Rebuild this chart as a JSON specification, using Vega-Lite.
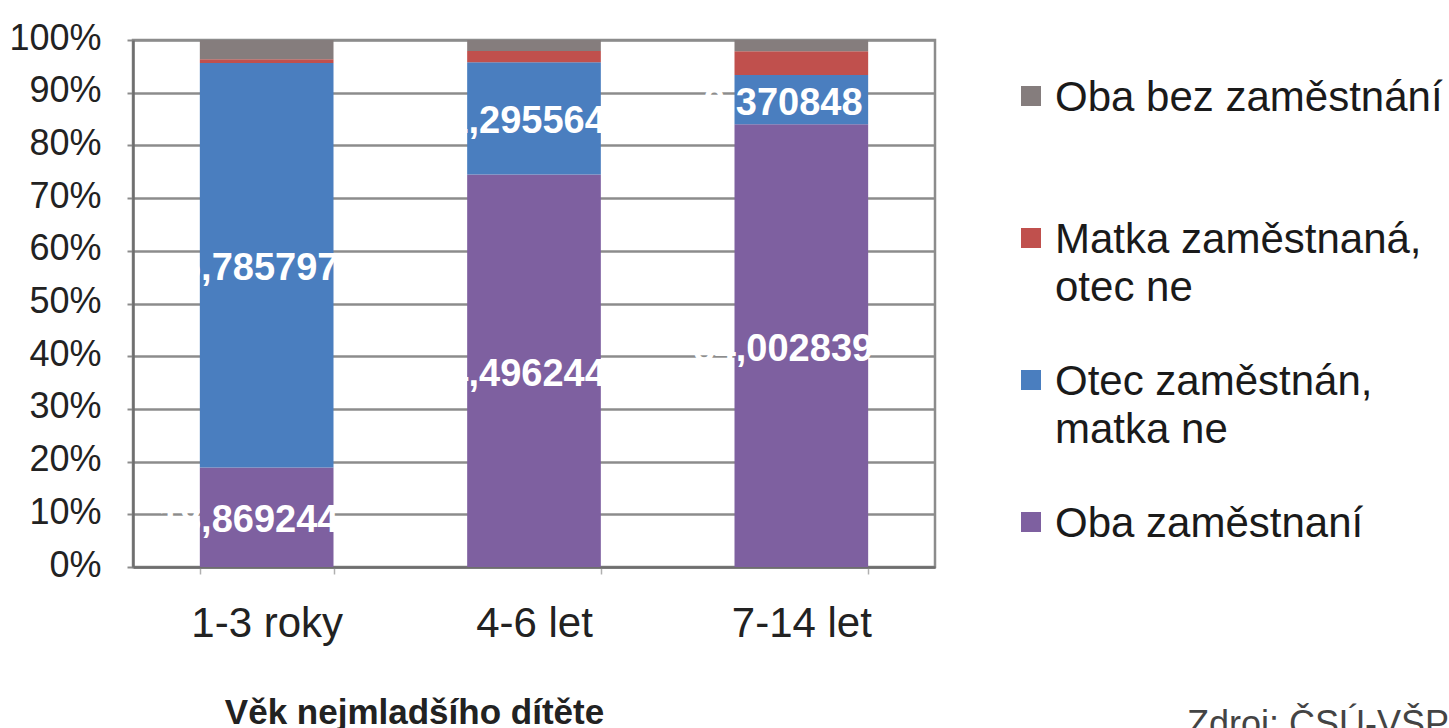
{
  "$schema": "https://vega.github.io/schema/vega-lite/v6.json",
  "width": 802,
  "height": 527,
  "autosize": "none",
  "padding": {"left": 133, "top": 40, "right": 514, "bottom": 161},
  "background": "white",
  "config": {
    "locale": {"number": {"decimal": ",", "thousands": " ", "grouping": [3], "currency": ["", " Kč"]}},
    "view": {"stroke": "#8c8c8c", "strokeWidth": 2.5},
    "font": "Liberation Sans"
  },
  "title": {
    "text": "Zdroj: ČSÚ-VŠPS",
    "orient": "bottom",
    "anchor": "end",
    "frame": "group",
    "align": "left",
    "baseline": "top",
    "dx": 252,
    "dy": -22,
    "offset": 0,
    "font": "Liberation Sans",
    "fontSize": 36,
    "fontWeight": "normal",
    "color": "#444444"
  },
  "data": {
    "values": [
      {"vek": "1-3 roky", "stav": "Oba zaměstnaní", "podil": 18.869244},
      {"vek": "1-3 roky", "stav": "Otec zaměstnán, matka ne", "podil": 76.785797},
      {"vek": "1-3 roky", "stav": "Matka zaměstnaná, otec ne", "podil": 0.7},
      {"vek": "1-3 roky", "stav": "Oba bez zaměstnání", "podil": 3.644959},
      {"vek": "4-6 let", "stav": "Oba zaměstnaní", "podil": 74.496244},
      {"vek": "4-6 let", "stav": "Otec zaměstnán, matka ne", "podil": 21.295564},
      {"vek": "4-6 let", "stav": "Matka zaměstnaná, otec ne", "podil": 2.1},
      {"vek": "4-6 let", "stav": "Oba bez zaměstnání", "podil": 2.108192},
      {"vek": "7-14 let", "stav": "Oba zaměstnaní", "podil": 84.002839},
      {"vek": "7-14 let", "stav": "Otec zaměstnán, matka ne", "podil": 9.370848},
      {"vek": "7-14 let", "stav": "Matka zaměstnaná, otec ne", "podil": 4.5},
      {"vek": "7-14 let", "stav": "Oba bez zaměstnání", "podil": 2.126313}
    ]
  },
  "transform": [
    {"calculate": "indexof(['Oba zaměstnaní', 'Otec zaměstnán, matka ne', 'Matka zaměstnaná, otec ne', 'Oba bez zaměstnání'], datum.stav)", "as": "poradi"},
    {"stack": "podil", "groupby": ["vek"], "sort": [{"field": "poradi", "order": "ascending"}], "as": ["y0", "y1"]},
    {"calculate": "(datum.y0 + datum.y1) / 2", "as": "ymid"}
  ],
  "encoding": {
    "x": {
      "field": "vek",
      "type": "nominal",
      "sort": ["1-3 roky", "4-6 let", "7-14 let"],
      "scale": {"paddingInner": 0.5, "paddingOuter": 0.25},
      "axis": {
        "title": "Věk nejmladšího dítěte",
        "labelAngle": 0,
        "labelFont": "Liberation Sans",
        "labelFontSize": 42,
        "labelColor": "#222222",
        "labelBaseline": "alphabetic",
        "labelPadding": 62,
        "tickBand": "extent",
        "ticks": true,
        "tickSize": 7,
        "tickColor": "#b0b0b0",
        "tickWidth": 1.5,
        "domainColor": "#6e6e6e",
        "domainWidth": 2.5,
        "grid": false,
        "titleFont": "Liberation Sans",
        "titleFontWeight": "bold",
        "titleFontSize": 35,
        "titleColor": "#222222",
        "titleX": 281,
        "titleY": 156,
        "titleBaseline": "alphabetic",
        "titleAlign": "center"
      }
    }
  },
  "layer": [
    {
      "mark": {"type": "bar"},
      "encoding": {
        "y": {
          "field": "y0",
          "type": "quantitative",
          "scale": {"domain": [0, 100], "nice": false},
          "axis": {
            "title": null,
            "values": [0, 10, 20, 30, 40, 50, 60, 70, 80, 90, 100],
            "labelExpr": "datum.value + '%'",
            "labelFont": "Liberation Sans",
            "labelFontSize": 36,
            "labelColor": "#222222",
            "labelPadding": 26,
            "labelFlush": false,
            "labelOffset": -2,
            "tickSize": 6,
            "tickColor": "#8c8c8c",
            "tickWidth": 2,
            "domainColor": "#6e6e6e",
            "domainWidth": 2.5,
            "grid": true,
            "gridColor": "#8c8c8c",
            "gridWidth": 2.5
          }
        },
        "y2": {"field": "y1"},
        "color": {
          "field": "stav",
          "type": "nominal",
          "scale": {
            "domain": ["Oba bez zaměstnání", "Matka zaměstnaná, otec ne", "Otec zaměstnán, matka ne", "Oba zaměstnaní"],
            "range": ["#857d7d", "#c0504d", "#4a7ebf", "#7e60a0"]
          },
          "legend": {
            "title": null,
            "orient": "none",
            "legendX": 877,
            "legendY": 35,
            "padding": 0,
            "symbolType": "square",
            "symbolSize": 400,
            "symbolStrokeWidth": 0,
            "labelFont": "Liberation Sans",
            "labelFontSize": 42,
            "labelColor": "#1a1a1a",
            "labelOffset": 3,
            "labelBaseline": "top",
            "labelLimit": 600,
            "rowPadding": 50,
            "gridAlign": "all",
            "labelExpr": "indexof(datum.label, ', ') > 0 ? [slice(datum.label, 0, indexof(datum.label, ', ') + 1), slice(datum.label, indexof(datum.label, ', ') + 2)] : datum.label",
            "encode": {"labels": {"update": {"dy": {"value": -18}, "lineHeight": {"value": 48}}}}
          }
        }
      }
    },
    {
      "transform": [{"filter": "datum.poradi <= 1"}],
      "mark": {
        "type": "text",
        "color": "white",
        "font": "Liberation Sans",
        "fontWeight": "bold",
        "fontSize": 38,
        "baseline": "middle",
        "align": "center",
        "dx": -18,
        "dy": 4
      },
      "encoding": {
        "y": {"field": "ymid", "type": "quantitative"},
        "text": {"field": "podil", "type": "quantitative", "format": ".6f"}
      }
    }
  ]
}
